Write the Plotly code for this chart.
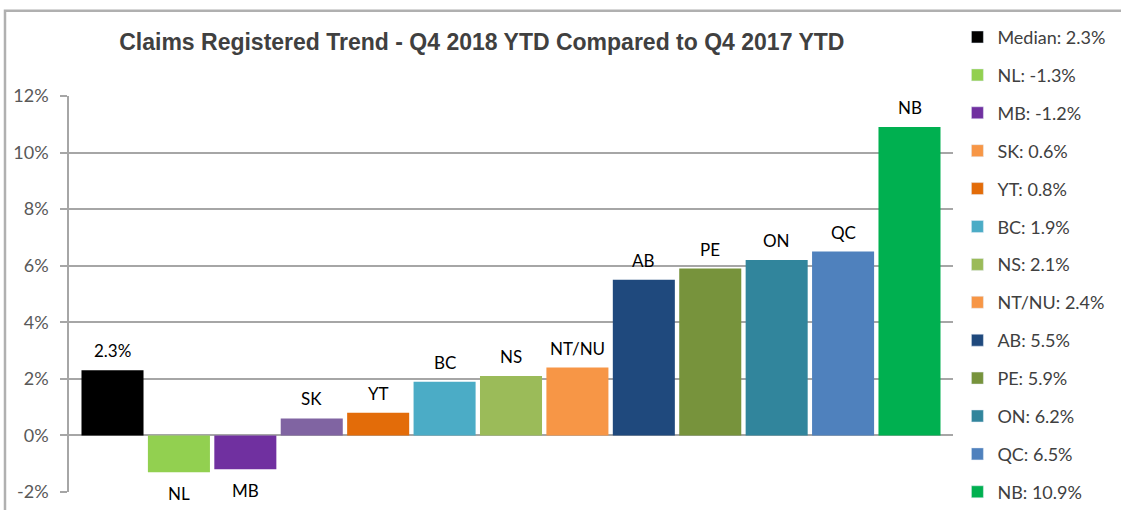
import plotly.graph_objects as go

categories = ["Median", "NL", "MB", "SK", "YT", "BC", "NS", "NT/NU", "AB", "PE", "ON", "QC", "NB"]
values = [2.3, -1.3, -1.2, 0.6, 0.8, 1.9, 2.1, 2.4, 5.5, 5.9, 6.2, 6.5, 10.9]
bar_labels = ["2.3%", "NL", "MB", "SK", "YT", "BC", "NS", "NT/NU", "AB", "PE", "ON", "QC", "NB"]
bar_colors = ["#000000", "#92D050", "#7030A0", "#8064A2", "#E36C09", "#4BACC6", "#9BBB59",
              "#F79646", "#1F497D", "#77933C", "#31859C", "#4F81BD", "#00B050"]
# legend swatches (SK uses a different colour than its bar in the original)
legend_colors = ["#000000", "#92D050", "#7030A0", "#F79646", "#E36C09", "#4BACC6", "#9BBB59",
                 "#F79646", "#1F497D", "#77933C", "#31859C", "#4F81BD", "#00B050"]
y_ticks = [-2, 0, 2, 4, 6, 8, 10, 12]

TXT = "#404040"
GRID = "#A6A6A6"
FONT = "Lato, Open Sans, sans-serif"

fig = go.Figure()

fig.add_trace(go.Bar(
    x=categories, y=values, marker=dict(color=bar_colors, line=dict(width=0)),
    showlegend=False, hoverinfo="skip",
))

for i, cat in enumerate(categories):
    fig.add_trace(go.Bar(
        x=[None], y=[None], name=f"{cat}: {values[i]:.1f}%",
        marker=dict(color=legend_colors[i]), legendgroup=cat, showlegend=True,
    ))

for cat, v, lab in zip(categories, values, bar_labels):
    fig.add_annotation(
        x=cat, y=v, text=lab, showarrow=False,
        yanchor="bottom" if v >= 0 else "top",
        yshift=7 if v >= 0 else -9,
        font=dict(family=FONT, size=17, color="#000000"),
    )

# outer chart frame (top and left edges visible in the crop)
fig.add_shape(type="rect", xref="paper", yref="paper",
              x0=-0.0724, x1=1.3, y0=-0.2, y1=1.215,
              line=dict(color="#B0B0B0", width=2.5))

fig.update_layout(
    width=1121, height=510,
    margin=dict(l=69, r=168, t=95.5, b=17.7, autoexpand=False),
    plot_bgcolor="#FFFFFF", paper_bgcolor="#FFFFFF",
    bargap=0.066,
    title=dict(text="Claims Registered Trend - Q4 2018 YTD Compared to Q4 2017 YTD",
               x=0.467, xref="paper", xanchor="center", y=0.918, yref="container",
               yanchor="middle",
               font=dict(family="Liberation Sans, Arial", size=23, color=TXT, weight="bold")),
    xaxis=dict(range=[-0.655, 12.655], showticklabels=False, showgrid=False,
               zeroline=False, showline=False, fixedrange=True),
    yaxis=dict(range=[-2, 12], tickvals=y_ticks, ticktext=[f"{t}%" for t in y_ticks],
               showgrid=True, gridcolor=GRID, gridwidth=1.5,
               zeroline=True, zerolinecolor=GRID, zerolinewidth=1.5,
               showline=True, linecolor=GRID, linewidth=1.5,
               ticks="outside", ticklen=7, tickcolor=GRID, tickwidth=1.5,
               ticklabelstandoff=8,
               tickfont=dict(family=FONT, size=18, color="#595959")),
    legend=dict(x=1.005, xanchor="left", y=1.195, yanchor="top",
                font=dict(family=FONT, size=18, color=TXT),
                tracegroupgap=11.5, itemwidth=30, maxheight=1,
                bgcolor="rgba(0,0,0,0)"),
    showlegend=True,
)

fig.write_html("out.html", config={"displayModeBar": False},
               post_script="document.body.style.margin='0';")
